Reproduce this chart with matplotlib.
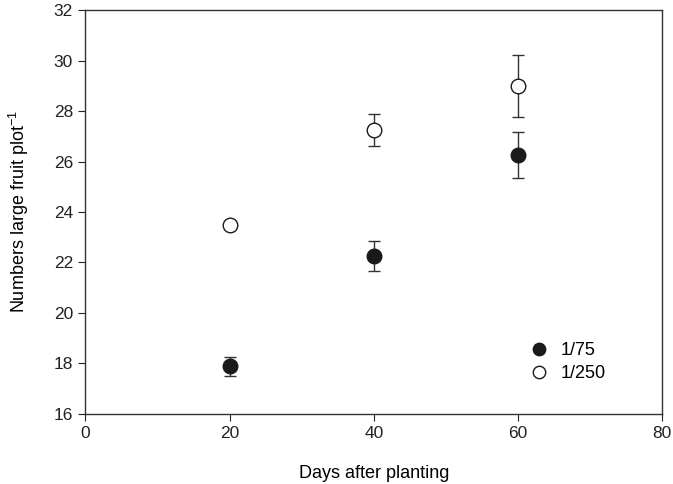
import matplotlib
matplotlib.use("Agg")
import matplotlib.pyplot as plt

plt.rcParams['font.family'] = ['Liberation Sans', 'DejaVu Sans']
plt.rcParams['mathtext.fontset'] = 'custom'
plt.rcParams['mathtext.rm'] = 'Liberation Sans'

days = [20, 40, 60]
dense_mean = [17.88, 22.25, 26.25]
dense_err = [0.38, 0.6, 0.92]
sparse_mean = [23.5, 27.25, 29.0]
sparse_err = [0.15, 0.65, 1.22]

fig = plt.figure(figsize=(6.73, 4.84), dpi=100)
ax = fig.add_axes([0.127, 0.145, 0.857, 0.834])

ax.errorbar(days, dense_mean, yerr=dense_err, fmt='o', color='#333333',
            mfc='#1a1a1a', mec='#1a1a1a', ms=10.5, capsize=4.5, elinewidth=1,
            capthick=1, label='1/75', zorder=3)
ax.errorbar(days, sparse_mean, yerr=sparse_err, fmt='o', color='#333333',
            mfc='white', mec='#1a1a1a', ms=10.5, mew=1, capsize=4.5, elinewidth=1,
            capthick=1, label='1/250', zorder=3)

ax.set_xlim(0, 80)
ax.set_ylim(16, 32)
ax.set_xticks(range(0, 81, 20))
ax.set_yticks(range(16, 33, 2))
ax.tick_params(direction='out', length=5, labelsize=12.5, colors='#222222', pad=4)
ax.tick_params(top=False, right=False)
for s in ax.spines.values():
    s.set_color('#333333')
    s.set_linewidth(1)

ax.set_xlabel('Days after planting', fontsize=13, labelpad=17)
ax.set_ylabel(r'Numbers large fruit plot$^{\mathregular{-1}}$', fontsize=13, labelpad=16)

handles, labels = ax.get_legend_handles_labels()
handles = [h[0] for h in handles]
ax.legend(handles, labels, loc='lower right', bbox_to_anchor=(0.93, 0.038),
          frameon=False, fontsize=13, handletextpad=0.2, labelspacing=0.35,
          markerscale=0.85)

fig.savefig('out.png', dpi=100)
